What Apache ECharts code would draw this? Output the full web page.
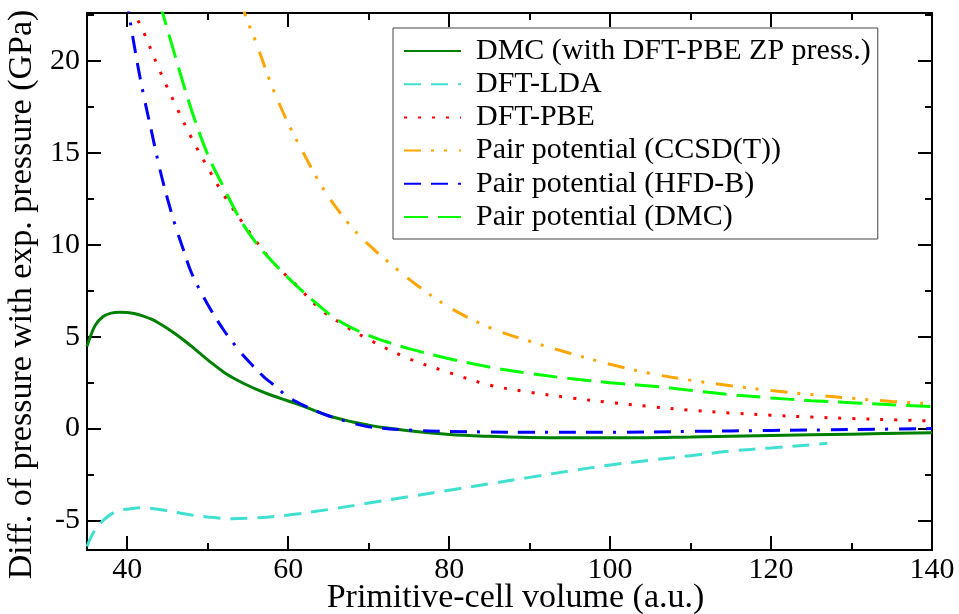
<!DOCTYPE html>
<html>
<head>
<meta charset="utf-8">
<script src="https://cdn.jsdelivr.net/npm/echarts@6/dist/echarts.min.js"></script>
<style>
html,body{margin:0;padding:0;background:#fff;}
#chart{width:959px;height:614px;}
</style>
</head>
<body>
<div id="chart"></div>
<script>
// ---- data ----
var seriesNames = ["DMC (with DFT-PBE ZP press.)", "DFT-LDA", "DFT-PBE", "Pair potential (CCSD(T))", "Pair potential (HFD-B)", "Pair potential (DMC)"];

var dmcX = [35,36,37,38,39,40,41,42,43,44,45,46,47,48,49,50,52,54,56,58,60,62,65,68,70,72,75,80,85,90,95,100,110,120,130,140];
var dmcY = [4.47,5.6,6.1,6.28,6.33,6.32,6.25,6.12,5.95,5.72,5.45,5.15,4.82,4.47,4.1,3.74,3.07,2.56,2.15,1.8,1.5,1.2,0.7,0.36,0.19,0.05,-0.12,-0.32,-0.42,-0.48,-0.5,-0.5,-0.45,-0.37,-0.3,-0.22];

var ldaX = [35,36,37,38,39,40,42,44,46,48,50,53,56,60,65,70,75,80,85,90,95,100,105,110,115,120,125,127];
var ldaY = [-6.4,-5.5,-5.0,-4.65,-4.45,-4.38,-4.3,-4.4,-4.55,-4.7,-4.8,-4.9,-4.85,-4.7,-4.4,-4.05,-3.7,-3.35,-3.0,-2.65,-2.3,-1.98,-1.72,-1.47,-1.22,-1.05,-0.88,-0.8];

var pbeX = [40,41,42,44,46,48,50,52,55,58,61,64,67,70,75,80,85,90,95,100,105,110,115,120,125,130,135,140];
var pbeY = [23.6,22.5,21.6,19.5,17.6,15.8,14.2,12.7,10.8,9.1,7.8,6.5,5.6,4.85,3.8,3.05,2.37,1.98,1.68,1.42,1.2,1.0,0.85,0.73,0.63,0.55,0.48,0.42];

var ccsdX = [54,55,56,58,60,62,64,66,68,70,73,76,80,85,90,95,100,105,110,115,120,125,130,135,140];
var ccsdY = [23.3,22.1,21.0,18.6,16.6,14.9,13.3,12.0,10.9,10.0,8.85,7.8,6.6,5.5,4.75,4.1,3.5,3.0,2.63,2.33,2.07,1.85,1.65,1.48,1.35];

var hfdX = [39.5,40,41,42,43,44,45,46,47,48,50,52,54,55,57,58,60,62,65,68,70,75,80,90,100,110,120,130,140];
var hfdY = [25,23.2,20.5,18.2,16.2,14.2,12.5,11.0,9.7,8.45,6.75,5.35,4.2,3.7,2.8,2.45,1.72,1.25,0.7,0.3,0.1,-0.08,-0.15,-0.2,-0.2,-0.15,-0.1,-0.05,0.0];

var pairX = [44,46,48,50,52,54,56,58,60,63,66,69,72,75,80,85,90,95,100,105,110,115,120,125,130,135,140];
var pairY = [23.2,20.2,17.3,14.9,13.1,11.4,10.1,9.1,8.2,7.0,5.95,5.25,4.75,4.35,3.8,3.35,3.0,2.72,2.5,2.32,2.08,1.85,1.67,1.52,1.41,1.3,1.2];

var xMajorTicks = [40,60,80,100,120,140];
var xMinorTicks = [50,70,90,110,130];
var yMajorTicks = [-5,0,5,10,15,20];
var yMinorTicks = [-2.5,2.5,7.5,12.5,17.5,22.5];

var xTitle = "Primitive-cell volume (a.u.)";
var yTitle = "Diff. of pressure with exp. pressure (GPa)";

// ---- chart ----
var FONT = "Liberation Serif";
function zip(xs, ys){ return xs.map(function(x,i){ return [x, ys[i]]; }); }

var X_MIN = 35, X_MAX = 140, Y_MIN = -6.6, Y_MAX = 22.6;

function xAxisDef(pos, ticks, len, showLine, showLabel, name){
  return {
    type:'value', min:X_MIN, max:X_MAX, position:pos, gridIndex:0,
    axisLine:{show:showLine, onZero:false, lineStyle:{color:'#000', width:2}},
    axisTick:{show:true, inside:true, length:len, customValues:ticks, lineStyle:{color:'#000', width:2}},
    axisLabel:{show:showLabel, customValues:ticks, color:'#000', fontFamily:FONT, fontSize:30, margin:5},
    splitLine:{show:false},
    name: name || '', nameLocation:'middle', nameGap:31, nameMoveOverlap:false,
    nameTextStyle:{color:'#000', fontFamily:FONT, fontSize:34, padding:[0,0,0,12]}
  };
}
function yAxisDef(pos, ticks, len, showLine, showLabel, name){
  return {
    type:'value', min:Y_MIN, max:Y_MAX, position:pos, gridIndex:0,
    axisLine:{show:showLine, onZero:false, lineStyle:{color:'#000', width:2}},
    axisTick:{show:true, inside:true, length:len, customValues:ticks, lineStyle:{color:'#000', width:2}},
    axisLabel:{show:showLabel, customValues:ticks, color:'#000', fontFamily:FONT, fontSize:30, margin:7},
    splitLine:{show:false},
    name: name || '', nameLocation:'middle', nameGap:48, nameMoveOverlap:false,
    nameTextStyle:{color:'#000', fontFamily:FONT, fontSize:34, padding:[0,26,0,0]}
  };
}

var styles = [
  {color:'#008000', type:'solid'},
  {color:'#40E0D0', type:[17,10]},
  {color:'#FF0000', type:[3,11]},
  {color:'#FFA500', type:[17,10,3,10,3,12]},
  {color:'#0000FF', type:[17,10,17,10,3,11]},
  {color:'#00FF00', type:[24,10]}
];
var dataSets = [zip(dmcX,dmcY), zip(ldaX,ldaY), zip(pbeX,pbeY), zip(ccsdX,ccsdY), zip(hfdX,hfdY), zip(pairX,pairY)];

var series = dataSets.map(function(d,i){
  return {
    name: seriesNames[i], type:'line', data:d, xAxisIndex:0, yAxisIndex:0,
    showSymbol:false, symbol:'none', smooth:0.35, clip:true,
    itemStyle:{color:styles[i].color},
    lineStyle:{color:styles[i].color, width:3, type:styles[i].type, cap:'butt'}
  };
});

var option = {
  backgroundColor:'#fff',
  animation:false,
  textStyle:{fontFamily:FONT},
  grid:{left:87, right:27, top:13, bottom:64, containLabel:false, outerBoundsMode:'none'},
  xAxis:[
    xAxisDef('bottom', xMajorTicks, 14, true, true, xTitle),
    xAxisDef('bottom', xMinorTicks, 7, false, false),
    xAxisDef('top', xMajorTicks, 14, true, false),
    xAxisDef('top', xMinorTicks, 7, false, false)
  ],
  yAxis:[
    yAxisDef('left', yMajorTicks, 14, true, true, yTitle),
    yAxisDef('left', yMinorTicks, 7, false, false),
    yAxisDef('right', yMajorTicks, 14, true, false),
    yAxisDef('right', yMinorTicks, 7, false, false)
  ],
  legend:{
    show:true, orient:'vertical', left:393, top:28,
    itemWidth:57, itemHeight:20, itemGap:3.2,
    padding:[8,7,7,10],
    borderColor:'#444', borderWidth:1, backgroundColor:'#fff',
    itemStyle:{opacity:0},
    textStyle:{color:'#000', fontFamily:FONT, fontSize:30, lineHeight:30, padding:[0,0,0,10]},
    data: seriesNames
  },
  series: series
};

var chart = echarts.init(document.getElementById('chart'), null, {renderer:'canvas'});
chart.setOption(option);
</script>
</body>
</html>
